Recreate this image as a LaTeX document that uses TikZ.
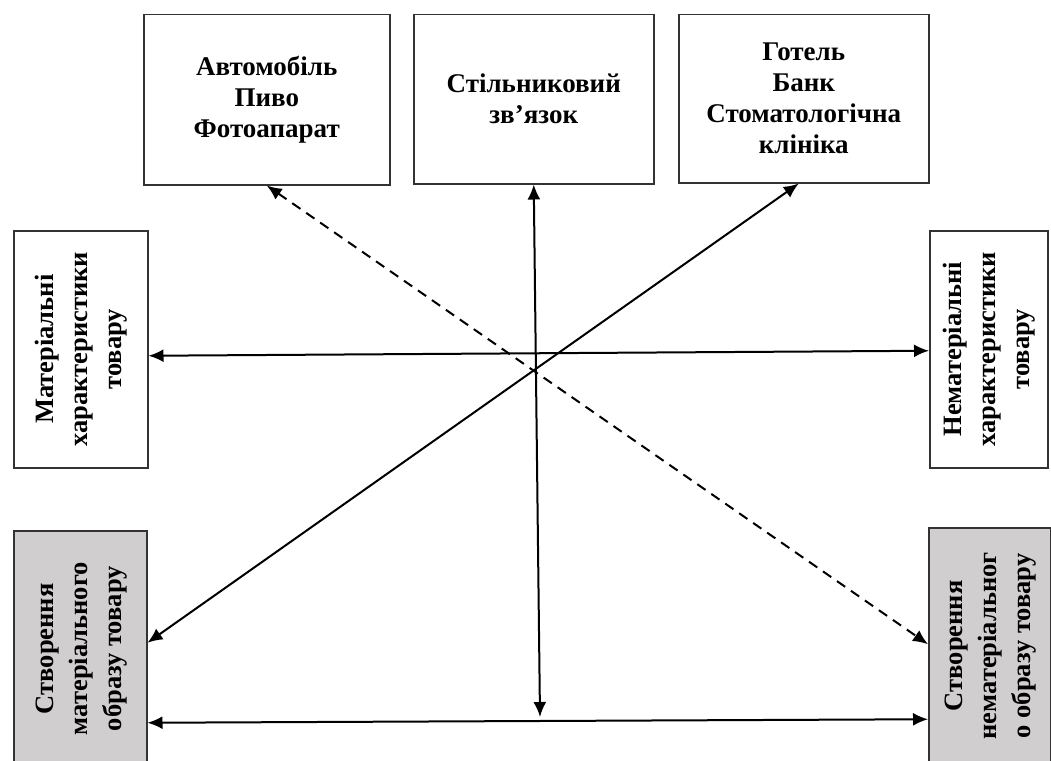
\documentclass[tikz,border=0pt]{standalone}
\usepackage{fontspec}
\setmainfont{Liberation Serif}
\usetikzlibrary{arrows.meta}
\definecolor{boxGray}{RGB}{208,206,206}
\newcommand{\topSty}{\fontsize{27}{31}\selectfont\bfseries}
\newcommand{\sideSty}{\fontsize{26.5}{34}\selectfont\bfseries}
\newcommand{\sideText}[1]{\rotatebox{90}{\begin{tabular}{@{}c@{}}#1\end{tabular}}}

\begin{document}
\begin{tikzpicture}[x=1pt, y=-1pt,
	card/.style={draw=black!80, line width=1.5pt, align=center, inner sep=0pt, anchor=north west},
	link/.style={line width=2pt, {Latex[length=15pt,width=13pt]}-{Latex[length=15pt,width=13pt]}}
	]

		\useasboundingbox (0,0) rectangle (1051,760);

		% products
		\node[card, minimum width=246, minimum height=170, font=\topSty] (auto) at (143,14) {Автомобіль\\Пиво\\Фотоапарат};
		\node[card, minimum width=240, minimum height=169, font=\topSty] (zvyazok) at (413,14) {Стільниковий\\зв’язок};
		\node[card, minimum width=250, minimum height=168, font=\topSty] (hotel) at (678,14) {Готель\\Банк\\Стоматологічна\\клініка};

		% characteristics
		\node[card, minimum width=134, minimum height=237, font=\sideSty] (matChar) at (13,230) {\sideText{Матеріальні\\характеристики\\товару}};
		\node[card, minimum width=118, minimum height=237, font=\sideSty] (nematChar) at (929,230) {\sideText{Нематеріальні\\характеристики\\товару}};

		% image of the product
		\node[card, fill=boxGray, minimum width=133, minimum height=236, font=\sideSty] (matObraz) at (13,530) {\sideText{Створення\\матеріального\\образу товару}};
		\node[card, fill=boxGray, minimum width=122, minimum height=236, font=\sideSty] (nematObraz) at (928,527) {\sideText{Створення\\нематеріальног\\о образу товару}};

		% free end of the vertical arrow
		\coordinate (vEnd) at (540,717);

		% arrows
		\draw[link] ([yshift=-6.5pt]matChar.east) -- ([yshift=-1.5pt]nematChar.west);
		\draw[link] ([yshift=-74pt]matObraz.east) -- ([yshift=-73.5pt]nematObraz.west);
		\draw[link] (zvyazok.south) -- (vEnd);
		\draw[link] ([xshift=-5pt]hotel.south) -- ([yshift=6pt]matObraz.east);
		\draw[link, dash pattern=on 10pt off 7pt] (auto.south) -- ([yshift=1.5pt]nematObraz.west);

\end{tikzpicture}
\end{document}
